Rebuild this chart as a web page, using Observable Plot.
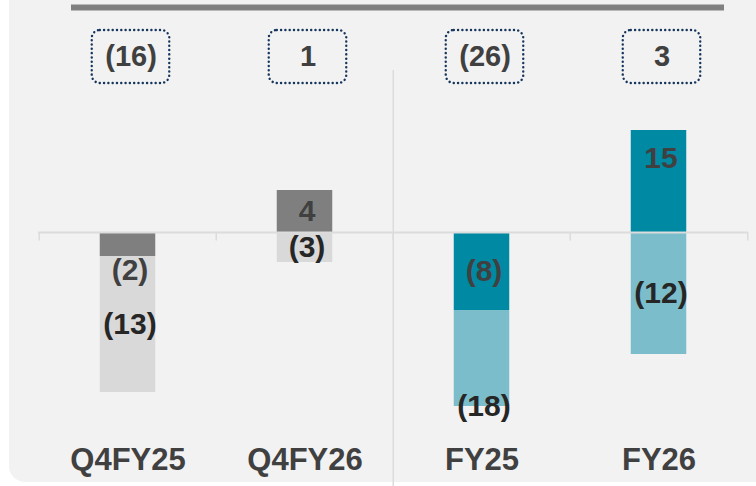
<!DOCTYPE html>
<html>
<head>
<meta charset="utf-8">
<script src="https://cdn.jsdelivr.net/npm/d3@7"></script>
<script src="https://cdn.jsdelivr.net/npm/@observablehq/plot@0.6"></script>
<style>
  html, body { margin: 0; padding: 0; background: #ffffff; }
  #wrap { position: relative; width: 756px; height: 486px; overflow: hidden; }
  #panel { position: absolute; left: 9px; top: -20px; width: 780px; height: 502px;
           background: #f2f2f2; border-bottom-left-radius: 16px; }
  #chart { position: absolute; left: 0; top: 0; }
</style>
</head>
<body>
<div id="wrap"><div id="panel"></div><div id="chart"></div></div>
<script>
// Categories and values (bar extents as drawn, in chart units)
const categories = ["Q4FY25", "Q4FY26", "FY25", "FY26"];
const darkValues = [-2.4, 4.2, -7.8, 10.2];
const lightValues = [-13.6, -3.0, -9.6, -12.2];
// Printed labels
const darkLabels = ["(2)", "4", "(8)", "15"];
const lightLabels = ["(13)", "(3)", "(18)", "(12)"];
const totalLabels = ["(16)", "1", "(26)", "3"];
// Label placement keys
const darkPlace = ["outside", "mid", "mid", "top"];
const lightPlace = ["mid", "mid", "end", "mid"];

const palette = {
  Q: {dark: "#7f7f7f", light: "#d9d9d9"},
  FY: {dark: "#0089a3", light: "#7bbdca"}
};
const group = c => c.startsWith("Q") ? "Q" : "FY";

const rows = [];
const labels = [];
function placeY(kind, start, end) {
  const s = Math.sign(end - start) || 1;
  if (kind === "mid") return (start + end) / 2;
  if (kind === "outside") return end + s * 1.4;
  if (kind === "top") return end - s * 2.8;
  return end; // "end"
}
categories.forEach((c, i) => {
  rows.push({cat: c, series: "dark", value: darkValues[i]});
  rows.push({cat: c, series: "light", value: lightValues[i]});
  const d0 = 0, d1 = darkValues[i];
  const l0 = Math.sign(lightValues[i]) === Math.sign(darkValues[i]) ? d1 : 0;
  const l1 = l0 + lightValues[i];
  labels.push({cat: c, series: "dark", text: darkLabels[i], y: placeY(darkPlace[i], d0, d1)});
  labels.push({cat: c, series: "light", text: lightLabels[i], y: placeY(lightPlace[i], l0, l1)});
});
const totals = categories.map((c, i) => ({cat: c, text: totalLabels[i]}));

const bandHalf = (756 - 38 - 8) / categories.length / 2;
const totalsRow = 17.55, boxHalf = 2.65;

const chart = Plot.plot({
  width: 756,
  height: 486,
  marginTop: 0,
  marginBottom: 0,
  marginLeft: 38,
  marginRight: 8,
  x: {domain: categories, padding: 0, axis: null},
  y: {domain: [-25.4, 23.2], axis: null},
  style: {background: "transparent", fontFamily: "'Liberation Sans', Arial, sans-serif"},
  marks: [
    // top header rule
    Plot.ruleY([22.5], {stroke: "#808080", strokeWidth: 6, insetLeft: 33, insetRight: 24}),
    // separator between quarter and full-year groups
    Plot.ruleX(["FY25"], {dx: -bandHalf, insetTop: 70, stroke: "#dcdcdc", strokeWidth: 1.5}),
    // bars
    Plot.barY(rows, {
      x: "cat", y: "value",
      fill: d => palette[group(d.cat)][d.series],
      insetLeft: bandHalf - 28, insetRight: bandHalf - 28
    }),
    // zero axis and band ticks
    Plot.ruleY([0], {stroke: "#dcdcdc", strokeWidth: 2}),
    Plot.ruleX(categories, {x: d => d, dx: -bandHalf, y1: 0, y2: -0.85, stroke: "#dcdcdc", strokeWidth: 1.5}),
    Plot.ruleX(categories.slice(-1), {x: d => d, dx: bandHalf, y1: 0, y2: -0.85, stroke: "#dcdcdc", strokeWidth: 1.5}),
    // value labels
    Plot.text(labels, {
      x: "cat", y: "y", text: "text",
      fill: d => d.series === "dark" ? "#404040" : "#262626",
      fontSize: 30, fontWeight: "bold", dx: 2
    }),
    // totals boxes
    Plot.barY(totals, {
      x: "cat", y1: totalsRow + boxHalf, y2: totalsRow - boxHalf,
      fill: "none", stroke: "#17365d", strokeWidth: 2.4,
      strokeDasharray: "0.1 4.2", strokeLinecap: "round",
      rx: 8, insetLeft: bandHalf - 39, insetRight: bandHalf - 39, dx: 3
    }),
    Plot.text(totals, {
      x: "cat", y: totalsRow, text: "text",
      fill: "#404040", fontSize: 29, fontWeight: "bold", dx: 3
    }),
    // category labels
    Plot.text(categories, {
      x: d => d, text: d => d, frameAnchor: "bottom", lineAnchor: "bottom", dy: -17,
      fill: "#404040", fontSize: 31, fontWeight: "bold"
    })
  ]
});
document.getElementById("chart").appendChild(chart);
</script>
</body>
</html>
